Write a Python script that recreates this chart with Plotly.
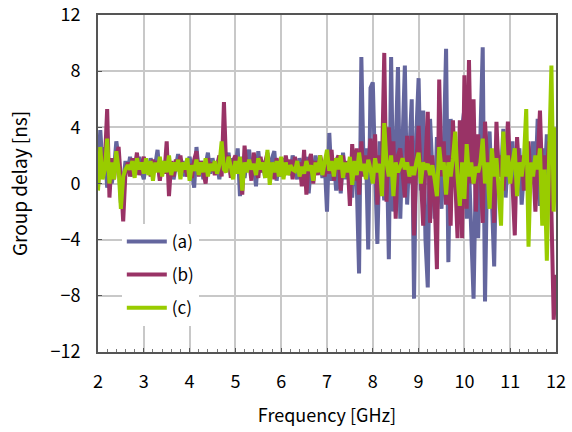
import numpy as np
import plotly.graph_objects as go

freq = [round(2 + 0.05 * i, 2) for i in range(201)]

delay_a = [
    0.5, 3.8, 1.2, 2.6, -0.3, 1.6, 0.0, 1.0, 3.0, 1.8,
    -1.4, 0.4, 1.6, 0.8, 1.9, 0.5, 1.7, 1.0, 1.9, 0.9,
    0.3, 1.6, 0.8, 1.8, 0.9, 1.3, 2.4, 0.5, 1.6, 0.8,
    1.9, 1.0, 1.4, 0.3, 1.3, 2.1, 0.8, 1.6, 0.5, 1.4,
    1.9, 0.6, -0.3, 2.6, 0.8, 1.6, 0.3, 1.3, 2.2, 0.7,
    1.8, 0.9, 1.5, 0.3, 1.7, 2.0, 1.0, 2.2, 0.6, 1.8,
    0.9, 2.5, -0.9, 1.9, 0.4, 1.7, 2.4, 0.6, 1.5, -0.2,
    2.3, 0.8, 1.6, 0.4, 1.9, 0.7, 1.8, 2.3, 0.2, 1.4,
    0.5, 1.8, 0.9, 1.6, 0.6, 2.0, 1.1, 0.3, 1.8, 1.0,
    0.4, 1.9, -0.7, 1.3, 0.6, 2.0, 0.8, 1.7, 0.4, 1.5,
    -2.0, 3.6, 0.2, 1.8, -0.5, 1.5, -0.7, 2.2, 0.3, 1.4,
    1.2, -1.0, 2.3, 0.0, -6.4, 9.0, 1.0, 2.5, -4.7, 6.8,
    7.2, 1.0, -4.3, 3.0, 0.5, -1.2, 3.5, -5.4, 9.0, -2.0,
    2.5, 8.3, -2.5, 4.0, 8.4, -1.5, 2.0, 6.0, -8.2, 3.5,
    7.5, -0.5, 5.2, -4.0, -7.4, 4.6, 1.0, -2.5, 3.3, 0.5,
    -1.8, 2.5, 9.6, -5.6, 4.6, 0.3, 3.0, -2.0, 1.5, 4.0,
    5.3, -2.5, 1.2, -4.0, -8.2, 1.0, -3.9, 3.5, 9.7, -8.4,
    2.0, 3.7, -2.0, -5.9, 3.0, 1.0, 0.5, 3.9, -1.0, 2.0,
    0.5, 3.0, -0.5, 1.5, 2.5, -1.5, 0.8, 2.0, -0.5, 1.5,
    3.0, 0.0, 4.6, -1.6, 2.5, 0.0, 3.5, 1.0, -0.5, 2.0,
    1.0,
]

delay_b = [
    -0.3, 2.5, 0.5, 1.5, 5.3, -1.0, 1.8, 0.3, 2.0, 2.6,
    0.2, -2.7, 0.8, 1.5, 0.5, 1.8, 1.0, 2.2, 0.6, 1.4,
    1.9, 0.8, 1.5, 0.5, 1.7, 1.0, 1.6, 0.2, 1.4, 0.7,
    3.0, -0.9, 1.6, 0.5, 1.7, 0.9, 2.0, 0.8, 1.5, 0.5,
    1.4, 0.4, 1.7, 2.3, 0.5, 1.6, 0.8, 0.0, 1.8, 0.9,
    1.5, 0.6, 1.3, 2.0, 0.5, 5.8, 1.0, 2.0, 0.4, 1.6,
    2.0, 0.8, 1.5, -0.8, 2.7, 0.9, 1.6, 0.2, 2.2, 1.0,
    0.4, 1.9, 0.8, 1.4, 2.2, 0.6, 1.5, 0.3, 1.8, 0.9,
    1.6, 0.7, 2.0, 0.9, 1.7, 0.3, 1.9, 1.1, 1.5, -0.2,
    2.4, -0.8, 1.5, 2.1, 0.0, 1.6, 0.6, 2.0, 1.2, 0.5,
    1.8, 0.7, 2.4, 0.2, 1.6, 2.0, -0.5, 2.0, 0.5, 1.6,
    -1.6, 2.8, 0.2, 2.5, -0.8, 3.0, 0.5, 2.0, 1.0, 3.2,
    0.5, 3.5, -1.5, 2.0, 1.0, 9.3, -1.3, 4.0, 1.0, 3.0,
    -2.5, 2.0, 2.5, 0.5, -1.0, 3.4, 0.0, 3.4, -3.7, 1.5,
    4.1, 0.5, -3.0, 1.5, 5.1, -2.8, 2.0, -1.0, -6.1, 7.4,
    0.5, 3.0, -1.5, 2.0, -3.0, 4.5, 0.5, -3.9, 4.5, -3.9,
    7.7, -1.8, 8.8, 0.0, 6.0, -2.0, 3.5, 1.0, -2.8, 4.4,
    1.5, -0.5, 2.0, -2.8, 4.4, 0.5, 2.0, -0.5, 1.5, 4.4,
    1.0, 0.0, -3.7, 3.3, 0.5, 2.0, -0.5, 1.5, 3.0, 0.0,
    1.5, -2.0, 2.5, 5.2, 0.0, 2.0, 1.0, 3.0, -2.0, -9.7,
    -6.5,
]

delay_c = [
    -0.5, 2.6, 0.3, 1.0, 3.2, 0.0, 1.5, 0.3, 2.3, 1.0,
    -1.8, 0.5, 1.0, 1.3, 1.0, 1.6, 0.4, 1.8, 1.0, 1.5,
    0.7, 1.8, 0.6, 1.6, 0.2, 1.5, 0.8, 1.9, 0.5, 1.6,
    0.8, 2.0, 0.6, 1.5, 0.9, 1.7, 0.3, 1.5, 1.0, 1.8,
    0.2, 1.3, 0.9, 1.7, 0.6, 1.5, 0.8, 1.8, 0.5, 1.4,
    0.9, 1.6, 0.7, 1.3, 3.0, 1.0, 0.8, 1.9, 1.2, 0.3,
    1.6, 0.7, 1.9, -0.5, 1.5, 0.8, 1.7, 1.0, 1.4, 0.6,
    1.8, 1.0, 1.5, 0.4, 2.4, -0.1, 1.5, 0.8, 1.6, 0.5,
    1.9, 0.3, 1.5, 0.6, 1.3, 1.0, 0.9, 1.6, 0.5, 1.2,
    0.7, 1.6, 0.9, 1.3, 0.2, 1.5, 0.8, 2.0, 0.6, 1.4,
    2.4, 0.9, 1.6, 0.5, 1.8, 1.0, 2.0, 0.4, 1.5, 0.8,
    1.9, -0.1, 1.6, 0.6, 2.2, 0.9, 1.4, 0.3, 1.7, 1.0,
    0.0, 1.8, 0.8, 1.4, -0.9, 4.3, 1.5, 0.5, 2.0, -0.9,
    1.5, 0.8, 1.2, 1.8, 1.0, 1.5, 0.5, 1.2, 0.6, 1.5,
    2.2, 0.0, 1.5, 1.0, 1.4, 0.6, 1.3, 0.3, -0.9, 2.6,
    1.0, 1.5, -0.8, 1.5, 0.5, 1.8, 3.7, 0.5, -1.6, 1.5,
    -1.1, 2.8, 0.5, 1.5, 0.0, 1.2, 0.8, 1.5, 3.2, 0.0,
    1.5, -1.8, 2.5, 0.5, 1.8, -0.5, -3.0, 3.7, 0.5, 2.0,
    0.0, 1.5, 2.5, -0.9, 1.5, 0.5, 1.8, 5.3, -4.5, 1.5,
    0.5, 2.0, 1.0, 2.5, -3.0, 1.0, -5.5, 2.0, 8.4, -2.0,
    4.0,
]

series_names = ["(a)", "(b)", "(c)"]
series_colors = ["#64669e", "#993366", "#99cc00"]

fig = go.Figure()
for name, ys, col in zip(series_names, [delay_a, delay_b, delay_c], series_colors):
    fig.add_trace(go.Scatter(
        x=freq, y=ys, mode="lines", name=name, legendgroup=name,
        line=dict(color=col, width=4),
    ))

fontfam = "Noto Sans CJK JP, DejaVu Sans, sans-serif"

fig.update_layout(
    width=572, height=432,
    margin=dict(l=98, r=16, t=15, b=80, autoexpand=False),
    paper_bgcolor="white", plot_bgcolor="white",
    font=dict(family=fontfam, size=17, color="black"),
    showlegend=True,
    legend=dict(
        x=0.052, y=0.38, xanchor="left", yanchor="top",
        bgcolor="rgba(255,255,255,1)", borderwidth=0,
        font=dict(size=17), tracegroupgap=8, itemwidth=40,
    ),
)
fig.update_xaxes(
    range=[2, 12], tickmode="linear", tick0=2, dtick=1,
    showgrid=True, gridcolor="#c8c8c8", gridwidth=1.5,
    showline=True, linecolor="#555555", linewidth=2, mirror=True,
    ticks="inside", ticklen=4, tickcolor="#555555",
    minor=dict(dtick=0.2, ticks="inside", ticklen=3, tickcolor="#777777", showgrid=False),
    ticklabelstandoff=12, automargin=False, ticklabeloverflow="allow",
    tickfont=dict(size=18),
    title=dict(text="Frequency [GHz]", standoff=18, font=dict(size=18)),
    zeroline=False,
)
fig.update_yaxes(
    range=[-12, 12], tickmode="linear", tick0=-12, dtick=4,
    showgrid=True, gridcolor="#c8c8c8", gridwidth=1.5,
    showline=True, linecolor="#555555", linewidth=2, mirror=True,
    ticks="inside", ticklen=4, tickcolor="#555555",
    ticklabelstandoff=12, automargin=False, ticklabeloverflow="allow",
    tickfont=dict(size=18),
    title=dict(text="Group delay [ns]", standoff=18, font=dict(size=19)),
    zeroline=False,
)

fig.write_html(
    "out.html",
    config={"displayModeBar": False},
    post_script="document.body.style.margin='0';",
)
